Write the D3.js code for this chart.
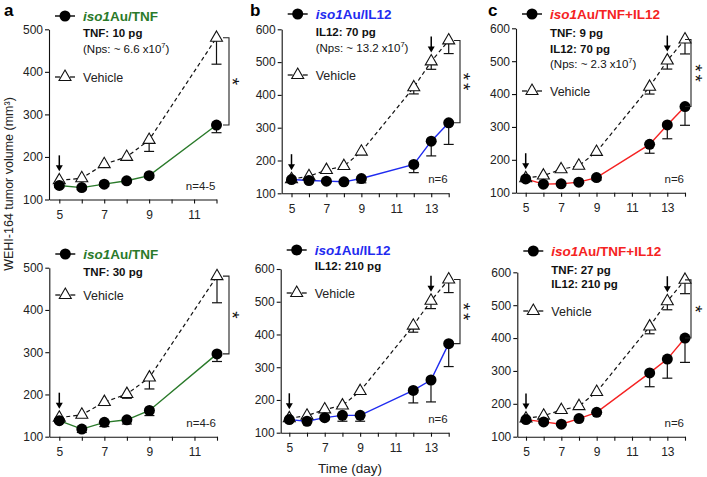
<!DOCTYPE html>
<html><head><meta charset="utf-8">
<script src="https://cdn.jsdelivr.net/npm/d3@7"></script>
<style>
body{margin:0;background:#fff;}
svg text{font-family:"Liberation Sans",Arial,Helvetica,sans-serif;}
</style></head>
<body><svg id="c" width="707" height="477"></svg>
<script>
// ---------- data ----------
const daysA = [5, 6, 7, 8, 9, 12];
const daysBC = [5, 6, 7, 8, 9, 12, 13, 14];
const xTicksA = [5, 6, 7, 8, 9, 10, 11, 12];
const xTicksBC = [5, 6, 7, 8, 9, 10, 11, 12, 13, 14];
const xLabelsA = [5, 7, 9, 11];
const xLabelsBC = [5, 7, 9, 11, 13];
const yTicksA = [100, 200, 300, 400, 500];
const yTicksBC = [100, 200, 300, 400, 500, 600];

// panel a (top) TNF 10 pg
const tnf10 = [133, 128, 136, 144, 156, 275];
const tnf10Err = [4, 5, 5, 5, 5, 18];
const vehA1 = [145, 150, 183, 200, 240, 480];
const vehA1Err = [3, 4, 6, 8, 27, 62];
// panel a (bottom) TNF 30 pg
const tnf30 = [138, 118, 134, 140, 162, 296];
const tnf30Err = [4, 8, 10, 10, 12, 18];
const vehA2 = [145, 152, 182, 201, 240, 480];
const vehA2Err = [3, 4, 8, 10, 27, 63];
// panel b (top) IL12 70 pg
const il70 = [142, 139, 137, 135, 145, 188, 259, 315];
const il70Err = [4, 4, 4, 4, 13, 25, 45, 66];
const vehB1 = [143, 152, 171, 183, 227, 423, 502, 566];
const vehB1Err = [3, 3, 4, 4, 8, 20, 24, 40];
// panel b (bottom) IL12 210 pg
const il210 = [140, 135, 146, 153, 153, 229, 261, 372];
const il210Err = [4, 4, 6, 18, 18, 38, 67, 70];
const vehB2 = [144, 152, 171, 183, 227, 427, 503, 568];
const vehB2Err = [3, 3, 4, 4, 8, 20, 24, 40];
// panel c (top) TNF 9 pg + IL12 70 pg
const comboLow = [142, 126, 127, 132, 146, 247, 306, 362];
const comboLowErr = [4, 4, 4, 4, 8, 27, 42, 57];
const vehC1 = [144, 152, 171, 182, 224, 422, 502, 566];
const vehC1Err = [3, 3, 4, 4, 8, 22, 26, 44];
// panel c (bottom) TNF 27 pg + IL12 210 pg
const comboHigh = [152, 145, 138, 155, 174, 294, 336, 400];
const comboHighErr = [4, 4, 4, 5, 5, 42, 58, 74];
const vehC2 = [155, 164, 181, 193, 236, 435, 512, 577];
const vehC2Err = [3, 3, 4, 4, 6, 22, 26, 42];

const arrowDaysA = [5];
const arrowDaysBC = [5, 13];
const sigLabels = ["*", "**", "**", "*", "**", "*"];

// ---------- layout ----------
const GREEN = "#2a7a2a", BLUE = "#1f2bf0", RED = "#f52222";
const panels = [
  {letter:"a", days:daysA, t:tnf10, te:tnf10Err, v:vehA1, ve:vehA1Err, color:GREEN, name:"Au/TNF",
   lines:[{b:"TNF: 10 pg"},{n:"(Nps: ~ 6.6 x10", sup:"7", end:")"}], n:"n=4-5",
   axisX:49, x5:59.3, xEnd:216.5, last:12, yBot:199.5, yTop:29.3, yMax:500,
   xt:xTicksA, xl:xLabelsA, yt:yTicksA, arrows:arrowDaysA,
   legY:16, lineYs:[37,53], vehY:77, bx:229, sx:237},
  {letter:"b", days:daysBC, t:il70, te:il70Err, v:vehB1, ve:vehB1Err, color:BLUE, name:"Au/IL12",
   lines:[{b:"IL12: 70 pg"},{n:"(Nps: ~ 13.2 x10", sup:"7", end:")"}], n:"n=6",
   axisX:281.7, x5:291.5, xEnd:448.7, last:14, yBot:193.3, yTop:29.3, yMax:600,
   xt:xTicksBC, xl:xLabelsBC, yt:yTicksBC, arrows:arrowDaysBC,
   legY:14, lineYs:[36,52], vehY:75, bx:460, sx:468},
  {letter:"c", days:daysBC, t:comboLow, te:comboLowErr, v:vehC1, ve:vehC1Err, color:RED, name:"Au/TNF+IL12",
   lines:[{b:"TNF: 9 pg"},{b:"IL12: 70 pg"},{n:"(Nps: ~ 2.3 x10", sup:"7", end:")"}], n:"n=6",
   axisX:516, x5:525.7, xEnd:685, last:14, yBot:192.7, yTop:28.3, yMax:600,
   xt:xTicksBC, xl:xLabelsBC, yt:yTicksBC, arrows:arrowDaysBC,
   legY:14, lineYs:[37,53,68], vehY:91, bx:691, sx:700},
  {letter:"", days:daysA, t:tnf30, te:tnf30Err, v:vehA2, ve:vehA2Err, color:GREEN, name:"Au/TNF",
   lines:[{b:"TNF: 30 pg"}], n:"n=4-6",
   axisX:49.3, x5:59.3, xEnd:217, last:12, yBot:436.7, yTop:267.7, yMax:500,
   xt:xTicksA, xl:xLabelsA, yt:yTicksA, arrows:arrowDaysA,
   legY:254, lineYs:[275.5], vehY:295, bx:229, sx:237},
  {letter:"", days:daysBC, t:il210, te:il210Err, v:vehB2, ve:vehB2Err, color:BLUE, name:"Au/IL12",
   lines:[{b:"IL12: 210 pg"}], n:"n=6",
   axisX:280.7, x5:289.3, xEnd:448.7, last:14, yBot:432.7, yTop:269, yMax:600,
   xt:xTicksBC, xl:xLabelsBC, yt:yTicksBC, arrows:arrowDaysBC,
   legY:250, lineYs:[270], vehY:293, bx:460, sx:468},
  {letter:"", days:daysBC, t:comboHigh, te:comboHighErr, v:vehC2, ve:vehC2Err, color:RED, name:"Au/TNF+IL12",
   lines:[{b:"TNF: 27 pg"},{b:"IL12: 210 pg"}], n:"n=6",
   axisX:517.3, x5:526, xEnd:685, last:14, yBot:436.7, yTop:272.3, yMax:600,
   xt:xTicksBC, xl:xLabelsBC, yt:yTicksBC, arrows:arrowDaysBC,
   legY:251, lineYs:[274,288], vehY:311, bx:691, sx:700}
];
const letterPos = {a:[4,16], b:[250,16], c:[488,16]};

const svg = d3.select("#c");
const tri = d3.symbol().type(d3.symbolTriangle).size(62);

panels.forEach((p, pi) => {
  const g = svg.append("g");
  const x = d3.scaleLinear().domain([5, p.last]).range([p.x5, p.xEnd]);
  const xAxisScale = d3.scaleLinear().domain([x.invert(p.axisX), p.last]).range([p.axisX, p.xEnd]);
  const y = d3.scaleLinear().domain([100, p.yMax]).range([p.yBot, p.yTop]);

  // axes
  const xa = g.append("g").attr("transform", `translate(0,${p.yBot})`)
    .call(d3.axisBottom(xAxisScale).tickValues(p.xt).tickSize(4).tickSizeOuter(0)
      .tickFormat(d => p.xl.includes(d) ? d : ""));
  const ya = g.append("g").attr("transform", `translate(${p.axisX},0)`)
    .call(d3.axisLeft(y).tickValues(p.yt).tickSize(4).tickSizeOuter(0).tickPadding(2));
  [xa, ya].forEach(a => {
    a.selectAll("path,line").attr("stroke", "#111").attr("stroke-width", 1.1);
    a.selectAll("text").attr("font-size", 12).attr("fill", "#222")
      .attr("font-family", '"Liberation Sans",Arial,sans-serif');
  });
  xa.selectAll("text").attr("dy", "1.05em");

  // lines
  const line = d3.line().x((d, i) => x(p.days[i])).y(d => y(d));
  g.append("path").datum(p.v).attr("d", line).attr("fill", "none")
    .attr("stroke", "#111").attr("stroke-width", 1.2).attr("stroke-dasharray", "4,3");
  g.append("path").datum(p.t).attr("d", line).attr("fill", "none")
    .attr("stroke", p.color).attr("stroke-width", 1.4);

  // error bars (downward)
  function errBars(vals, errs) {
    vals.forEach((v, i) => {
      const cx = x(p.days[i]), y0 = y(v), y1 = y(v - errs[i]);
      g.append("line").attr("x1", cx).attr("x2", cx).attr("y1", y0).attr("y2", y1)
        .attr("stroke", "#111").attr("stroke-width", 1.2);
      g.append("line").attr("x1", cx - 5).attr("x2", cx + 5).attr("y1", y1).attr("y2", y1)
        .attr("stroke", "#111").attr("stroke-width", 1.2);
    });
  }
  errBars(p.v, p.ve);
  errBars(p.t, p.te);

  // markers
  p.v.forEach((v, i) => {
    g.append("path").attr("d", tri).attr("transform", `translate(${x(p.days[i])},${y(v)})`)
      .attr("fill", "#fff").attr("stroke", "#111").attr("stroke-width", 1.1);
  });
  p.t.forEach((v, i) => {
    g.append("circle").attr("cx", x(p.days[i])).attr("cy", y(v)).attr("r", 5.5).attr("fill", "#000");
  });

  // arrows
  p.arrows.forEach(d => {
    const i = p.days.indexOf(d);
    const top = Math.max(p.v[i], p.t[i]);
    const tip = y(top) - 9, cx = x(d);
    g.append("line").attr("x1", cx).attr("x2", cx).attr("y1", tip - 16).attr("y2", tip - 5)
      .attr("stroke", "#000").attr("stroke-width", 1.5);
    g.append("path").attr("d", `M${cx - 3.5},${tip - 6}L${cx + 3.5},${tip - 6}L${cx},${tip}Z`).attr("fill", "#000");
  });

  // significance bracket
  const li = p.days.length - 1;
  const by0 = y(p.v[li]), by1 = y(p.t[li]);
  g.append("path").attr("d", `M${p.bx - 6},${by0}H${p.bx}V${by1}H${p.bx - 6}`)
    .attr("fill", "none").attr("stroke", "#222").attr("stroke-width", 1.1);
  const my = (by0 + by1) / 2;
  const fs = 19, ls = 3;
  // rotated text: glyph "up" points to +x, so shift left by the asterisk's height above baseline
  g.append("text").attr("transform", `translate(${p.sx - 0.57 * fs},${my + ls / 2}) rotate(90)`)
    .attr("text-anchor", "middle").attr("font-size", fs).attr("letter-spacing", ls)
    .attr("fill", "#111").text(sigLabels[pi]);

  // legend
  const lx = p.axisX + 16;
  g.append("line").attr("x1", lx - 10).attr("x2", lx + 10).attr("y1", p.legY).attr("y2", p.legY)
    .attr("stroke", "#000").attr("stroke-width", 1.4);
  g.append("circle").attr("cx", lx).attr("cy", p.legY).attr("r", 5.5).attr("fill", "#000");
  const tx = lx + 18;
  const lt = g.append("text").attr("x", tx).attr("y", p.legY + 5).attr("font-size", 13.5)
    .attr("font-weight", "bold").attr("fill", p.color);
  lt.append("tspan").attr("font-style", "italic").text("iso1");
  lt.append("tspan").text(p.name);
  p.lines.forEach((ln, k) => {
    const t = g.append("text").attr("x", tx).attr("y", p.lineYs[k]).attr("fill", "#111");
    if (ln.b) t.attr("font-size", 11.5).attr("font-weight", "bold").text(ln.b);
    else {
      t.attr("font-size", 11.5);
      t.append("tspan").text(ln.n);
      t.append("tspan").attr("font-size", 7.5).attr("dy", -5).text(ln.sup);
      t.append("tspan").attr("dy", 5).text(ln.end);
    }
  });
  // vehicle legend
  g.append("line").attr("x1", lx - 10).attr("x2", lx - 5).attr("y1", p.vehY).attr("y2", p.vehY)
    .attr("stroke", "#000").attr("stroke-width", 1.2);
  g.append("line").attr("x1", lx + 5).attr("x2", lx + 10).attr("y1", p.vehY).attr("y2", p.vehY)
    .attr("stroke", "#000").attr("stroke-width", 1.2);
  g.append("path").attr("d", tri).attr("transform", `translate(${lx},${p.vehY})`)
    .attr("fill", "#fff").attr("stroke", "#111").attr("stroke-width", 1.1);
  g.append("text").attr("x", tx).attr("y", p.vehY + 4.5).attr("font-size", 12.5).attr("fill", "#222").text("Vehicle");

  // n label
  g.append("text").attr("x", p.xEnd - 1).attr("y", p.yBot - 10).attr("text-anchor", "end")
    .attr("font-size", 11.5).attr("fill", "#222").text(p.n);

  if (p.letter) {
    const lp = letterPos[p.letter];
    svg.append("text").attr("x", lp[0]).attr("y", lp[1]).attr("font-size", 17)
      .attr("font-weight", "bold").text(p.letter);
  }
});

svg.append("text").attr("transform", "translate(13,184) rotate(-90)").attr("text-anchor", "middle")
  .attr("font-size", 12.5).attr("fill", "#222").text("WEHI-164 tumor volume (mm³)");
svg.append("text").attr("x", 350).attr("y", 473).attr("text-anchor", "middle")
  .attr("font-size", 13.5).attr("fill", "#222").text("Time (day)");
</script></body></html>
